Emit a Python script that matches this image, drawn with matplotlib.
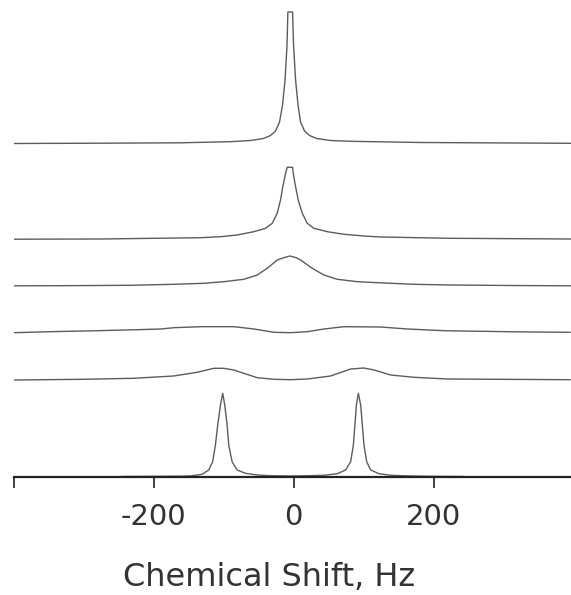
import numpy as np
import matplotlib.pyplot as plt

# Trace offsets (bottom to top), same units as the intensities
offsets = [0.5, 96.8, 144.2, 191.2, 237.8, 333.5]

# Slow exchange: two sharp lines
shift_1 = [-246, -190.4, -161.8, -147.5, -130.8, -121.4, -115.7, -111.8, -108.5, -104.6, -101.4,
           -98.5, -95.1, -92.8, -88, -80.8, -69, -52.2, -33.2, -4.6, 24, 43, 62.2, 74.1, 81.2,
           85.1, 87.3, 89.4, 92.2, 95.5, 97.9, 100.2, 104.1, 109.8, 121.7, 138.4, 167, 195.7, 241.3]
int_1 = [0, 0.2, 0.3, 0.5, 2.2, 6.5, 14.8, 31.5, 51.5, 71.5, 83.2,
         71.5, 51.5, 31.5, 14.8, 6.5, 3.2, 1.5, 0.8, 0.5, 0.8, 1.2, 2.8, 6.5, 14.8,
         31.5, 51.5, 71.5, 83.2, 71.5, 51.5, 31.5, 14.8, 6.5, 2.8, 1.2, 0.5, 0.2, 0]

# Broadened doublet
shift_2 = [-400, -300, -228.6, -171.4, -138, -114.2, -99.9, -85.6, -71.3, -52.2, -28.4, -4.6,
           19.3, 52.6, 81.2, 100.2, 114.5, 138.4, 171.7, 219.4, 290.9, 394.3]
int_2 = [0.2, 0.9, 1.9, 4.2, 7.9, 11.9, 11.9, 10.2, 6.9, 2.5, 0.9, 0.5,
         1.2, 4.2, 11.2, 12.2, 10.2, 5.2, 2.9, 1.2, 0.9, 0.5]

# Near coalescence
shift_3 = [-400, -347.7, -280.6, -223.4, -190.1, -171, -132.9, -85.3, -56.7, -28.2, -4.6,
           19.3, 43, 71.6, 124.1, 162.2, 214.6, 267, 338.5, 394.3]
int_3 = [0.1, 1.1, 2.1, 3.1, 3.8, 5.1, 6.1, 6.1, 3.8, 0.5, 0.1,
         1.1, 3.8, 6.1, 5.8, 3.8, 2.1, 1.5, 0.8, 0.5]

# Single broad line
shift_4 = [-400, -333.4, -233.3, -171.4, -128.5, -99.9, -71.3, -52.2, -37.9, -23.6, -14.2, -5.6,
           3.6, 9.7, 26.4, 43, 62.2, 90.8, 128.8, 171.7, 224.2, 310, 395.7]
int_4 = [0, 0.1, 0.5, 1.5, 2.5, 4.1, 6.5, 10.8, 17.5, 25.8, 28.1, 29.8,
         28.1, 25.8, 17.5, 10.8, 6.5, 4.1, 2.8, 1.5, 0.8, 0.3, 0]

# Narrowing line
shift_5 = [-400, -276, -133.2, -104.6, -80.8, -57, -40.3, -30.7, -23.6, -18.9, -15.6, -11.7, -9.3,
           -1.7, -0.7, 2.6, 6.4, 12.2, 19.3, 28.7, 47.9, 71.6, 100.2, 124.1, 224, 395.7]
int_5 = [0, 0.2, 1.5, 2.5, 4.2, 7.5, 10.9, 15.9, 25.9, 39.2, 52.5, 65.9, 71.9,
         71.9, 65.9, 52.5, 39.2, 25.9, 15.9, 10.9, 7.5, 4.9, 3.2, 2.2, 0.9, 0.2]

# Fast exchange: one sharp line
shift_6 = [-400, -276, -161.8, -90.4, -61.8, -43.2, -33.2, -26, -20.3, -16, -12.4, -9.6, -8.4,
           -1.7, -0.3, 2.6, 6.1, 9.7, 15.4, 22.6, 32.6, 52.6, 81.2, 181.3, 395.7]
int_6 = [0, 0.3, 0.7, 1.8, 3, 5, 8, 12.5, 21.5, 38.5, 63.5, 98.5, 131.5,
         131.5, 98.5, 63.5, 38.5, 21.5, 12.5, 8, 5, 3, 2.2, 1, 0.2]

shifts = [shift_1, shift_2, shift_3, shift_4, shift_5, shift_6]
intensities = [int_1, int_2, int_3, int_4, int_5, int_6]

xticks = [-400, -200, 0, 200]
xticklabels = ["", "-200", "0", "200"]

fig = plt.figure(figsize=(5.71, 5.95), dpi=100)
ax = fig.add_axes([13.5 / 571, 118 / 595, 557 / 571, 467 / 595])

for shift, inten, off in zip(shifts, intensities, offsets):
    ax.plot(shift, np.array(inten) + off, color="#5c5c5c", linewidth=1.0)

ax.set_xlim(-400, 395)
ax.set_ylim(0, 467)

# Only the bottom axis is shown
for side in ["top", "left", "right"]:
    ax.spines[side].set_visible(False)
ax.spines["bottom"].set_color("#222222")
ax.spines["bottom"].set_linewidth(1.6)
ax.set_yticks([])
ax.set_xticks(xticks)
ax.set_xticklabels(xticklabels)
ax.tick_params(axis="x", direction="out", length=8, width=1.2, color="#222222",
               labelsize=21, labelcolor="#333333", pad=11)
ax.set_facecolor("white")

fig.text(269 / 571, (595 - 578) / 595, "Chemical Shift, Hz", fontsize=23,
         color="#333333", ha="center", va="center")

fig.savefig("out.png", dpi=100)
